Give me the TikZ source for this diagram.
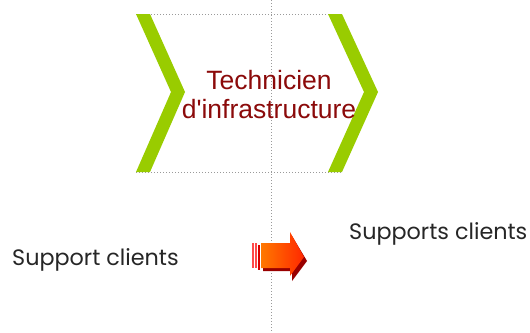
\documentclass[tikz,border=0pt]{standalone}
\usepackage{fontspec}
\setmainfont{Liberation Sans}
\newfontfamily\gothic{Poppins}
\usetikzlibrary{shadings}
\definecolor{chevgreen}{HTML}{99CC00}
\definecolor{titlered}{HTML}{8B0A0A}
\definecolor{guidegray}{HTML}{9A9A9A}
\definecolor{arrL}{HTML}{FF7800}
\definecolor{arrM}{HTML}{FFA000}
\definecolor{arrR}{HTML}{FF2800}
\definecolor{arrShadow}{HTML}{990000}
\definecolor{stripe}{HTML}{FF4A4A}
\tikzset{
  guide/.style={draw=guidegray, line width=1pt, dash pattern=on 1pt off 2pt},
  chevron/.style={fill=chevgreen, draw=none},
  label/.style={font=\gothic\fontsize{22.3}{26}\selectfont, text=black!85, inner sep=0pt},
}
\begin{document}
\begin{tikzpicture}[x=1pt,y=-1pt]
\useasboundingbox (0,0) rectangle (530,332);
% guides
\coordinate (vtop) at (271,0);
\coordinate (vbot) at (271,332);
\coordinate (rtl) at (136,14);
\coordinate (rtr) at (342,14);
\coordinate (rbl) at (136,172);
\coordinate (rbr) at (342,172);
\draw[guide] (rtl) -- (rtr);
\draw[guide] (rbl) -- (rbr);
\draw[guide] (vtop) -- (vbot);
% chevrons
\fill[chevron] (136,14) -- (150,14) -- (185,92) -- (150,172) -- (136,172) -- (171,92) -- cycle;
\fill[chevron] (328,14) -- (342,14) -- (378,92) -- (342,172) -- (328,172) -- (364,92) -- cycle;
% title
\node[font=\fontsize{26.5}{29}\selectfont, text=titlered, align=center, inner sep=0pt, anchor=base] (title) at (269,118) {Technicien\\d\textquotesingle infrastructure};
% labels
\node[label, anchor=base west] (left) at (12,265) {Support clients};
\node[label, anchor=base west] (right) at (349,239) {Supports clients};
% arrow shadow
\fill[arrShadow] (263,246) -- (292,246) -- (292,236) -- (307,261) -- (292,281) -- (292,271) -- (263,271) -- cycle;
% stripes
\fill[stripe] (252,243) rectangle (254,268);
\fill[stripe] (255,243) rectangle (257,268);
\fill[red!85!black] (258,245) rectangle (260,270);
% arrow body
\shade[left color=arrL, middle color=arrM, right color=arrR] (261,243) -- (290,243) -- (290,232) -- (304,257) -- (290,276) -- (290,268) -- (261,268) -- cycle;
\node[inner sep=0pt, minimum size=0pt] (arrow) at (282,256) {};
\end{tikzpicture}
\end{document}
